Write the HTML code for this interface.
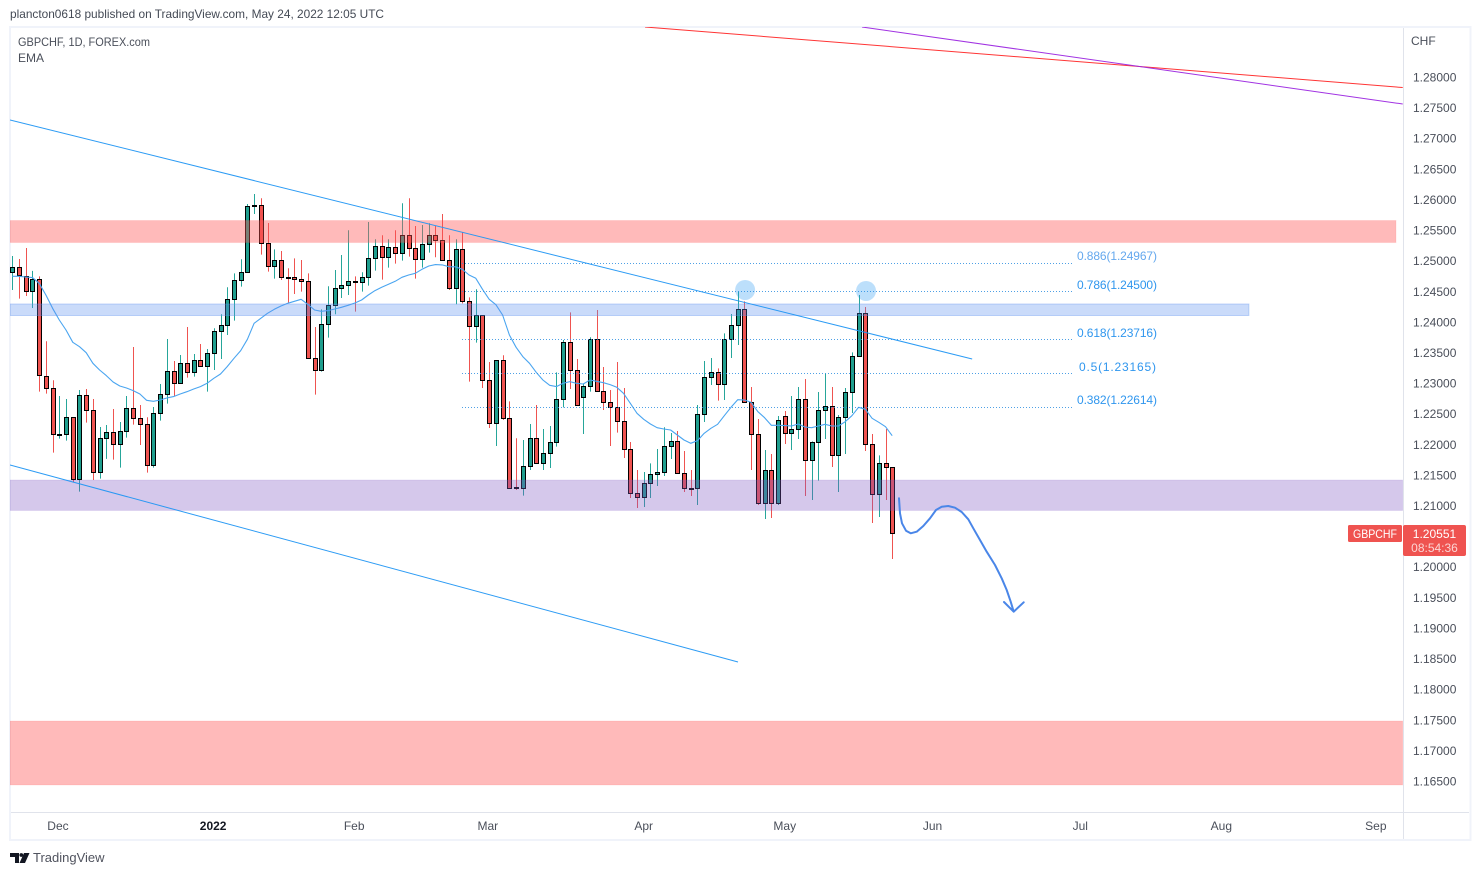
<!DOCTYPE html>
<html lang="en">
<head>
<meta charset="utf-8">
<title>GBPCHF 1D chart</title>
<style>
html,body{margin:0;padding:0;background:#fff;}
body{width:1481px;height:875px;overflow:hidden;font-family:"Liberation Sans",sans-serif;}
svg{display:block;}
text{font-family:"Liberation Sans",sans-serif;}
</style>
</head>
<body>
<svg id="chart" width="1481" height="875" viewBox="0 0 1481 875" xmlns="http://www.w3.org/2000/svg">
  <defs><clipPath id="pane-clip"><rect x="10" y="27" width="1393" height="785"/></clipPath></defs>
  <rect width="1481" height="875" fill="#ffffff"/>
  <text x="10" y="18" font-size="12" fill="#444a55" textLength="374" lengthAdjust="spacingAndGlyphs">plancton0618 published on TradingView.com, May 24, 2022 12:05 UTC</text>
  <rect x="10" y="27" width="1460.5" height="813" fill="none" stroke="#f0f3fa" stroke-width="2"/>
  <line x1="1403.5" y1="28" x2="1403.5" y2="839" stroke="#e0e3eb"/>
  <line x1="11" y1="812.5" x2="1469" y2="812.5" stroke="#e0e3eb"/>
  <g id="candles" clip-path="url(#pane-clip)"></g>
  <g id="ema" clip-path="url(#pane-clip)"></g>
  <g id="drawings" clip-path="url(#pane-clip)"></g>
  <path fill="none" stroke="#4a86e8" stroke-width="2" stroke-linecap="round" stroke-linejoin="round" d="M899 498.3 L900 513.3 L902 523.3 L906 530.7 L910.7 533.3 L916.7 531.7 L923.3 526 L930 518.3 L936 510 L941.7 506.7 L948.3 506 L955 507.7 L961.7 512 L968.3 519.3 L973.3 528.3 L980 540 L986.7 551.7 L995 565 L1001.7 578.3 L1006.7 590 L1010.7 601.7 L1013.7 611.7 M1004 602 L1013.7 611.7 L1023.7 602.3"/>
  <text x="18" y="46" font-size="12" fill="#4a4f5a" textLength="132" lengthAdjust="spacingAndGlyphs">GBPCHF, 1D, FOREX.com</text>
  <text x="18" y="62" font-size="12" fill="#4a4f5a">EMA</text>
  <text x="1411" y="45" font-size="12" fill="#4a4f5a">CHF</text>
  <g id="price-axis"></g>
  <g id="time-axis"></g>
  <rect x="1348" y="525" width="54" height="17" rx="1.5" fill="#ef5350"/>
  <text x="1353" y="538" font-size="12" fill="#ffffff" textLength="44" lengthAdjust="spacingAndGlyphs">GBPCHF</text>
  <rect x="1403" y="525" width="63" height="31" rx="2" fill="#ef5350"/>
  <text x="1434.5" y="538" font-size="12" fill="#ffffff" text-anchor="middle">1.20551</text>
  <text x="1434.5" y="552" font-size="12" fill="#fbd5d4" text-anchor="middle">08:54:36</text>
  <g>
    <path fill="#131722" d="M10 853h9v10h-4v-6h-5z M24 853h5.5l-4.5 10h-5.5z"/>
    <circle cx="21.3" cy="855" r="1.9" fill="#131722"/>
    <text x="33" y="862" font-size="13" fill="#50535e">TradingView</text>
  </g>
</svg>
<script>
const opens=[1.24810,1.24902,1.24755,1.24499,1.24695,1.23122,1.22915,1.22158,1.22163,1.22441,1.21428,1.22801,1.22555,1.21543,1.22098,1.22196,1.22000,1.22212,1.22588,1.22425,1.22327,1.21657,1.22506,1.22817,1.23193,1.22997,1.23323,1.23176,1.23372,1.23274,1.23487,1.23846,1.23944,1.24369,1.24679,1.24810,1.25888,1.25904,1.25283,1.24908,1.25006,1.24728,1.24728,1.24695,1.24663,1.23405,1.23209,1.23960,1.24271,1.24548,1.24597,1.24663,1.24646,1.24728,1.25038,1.25234,1.25055,1.25218,1.25120,1.25414,1.25202,1.25022,1.25267,1.25414,1.25332,1.25006,1.24548,1.25185,1.24336,1.23927,1.24107,1.23045,1.22343,1.23372,1.22435,1.21297,1.21281,1.21640,1.22098,1.21689,1.21853,1.22033,1.22735,1.23666,1.23209,1.22768,1.22947,1.23715,1.22866,1.22686,1.22604,1.22376,1.21918,1.21199,1.21134,1.21363,1.21510,1.21542,1.21967,1.22049,1.21526,1.21281,1.21281,1.22489,1.23094,1.23175,1.22979,1.23714,1.23943,1.24204,1.22685,1.22163,1.21035,1.21575,1.21035,1.22457,1.22179,1.22244,1.22734,1.21738,1.22032,1.22555,1.22620,1.21820,1.22440,1.22849,1.23437,1.24139,1.21999,1.21182,1.21689,1.21624];
const highs=[1.25077,1.25028,1.25207,1.24832,1.24744,1.23683,1.23046,1.22790,1.22741,1.22441,1.22888,1.22904,1.22741,1.22283,1.22316,1.22577,1.22365,1.22790,1.23590,1.22643,1.22441,1.22610,1.22986,1.23721,1.23361,1.23459,1.23917,1.23476,1.23639,1.23557,1.23895,1.24124,1.24565,1.24793,1.25022,1.25926,1.26089,1.26019,1.25616,1.25185,1.25158,1.24875,1.25038,1.25011,1.24793,1.23917,1.24205,1.24581,1.24848,1.25093,1.25496,1.24744,1.24810,1.25632,1.25349,1.25414,1.25349,1.25496,1.25937,1.26019,1.25567,1.25583,1.25610,1.25567,1.25763,1.25414,1.25349,1.25463,1.24401,1.24532,1.24107,1.23345,1.23377,1.23454,1.22702,1.22098,1.22071,1.22332,1.22642,1.22250,1.22299,1.23176,1.23704,1.24156,1.23394,1.22996,1.23748,1.24194,1.23263,1.22887,1.23345,1.22920,1.22038,1.21581,1.21548,1.21689,1.21924,1.22278,1.22185,1.22218,1.21890,1.21580,1.22642,1.23361,1.23410,1.23241,1.23812,1.24128,1.24499,1.24335,1.22936,1.22413,1.21907,1.21841,1.22462,1.22544,1.22789,1.22936,1.23066,1.22048,1.22854,1.23159,1.22936,1.22478,1.22919,1.23502,1.24439,1.24243,1.22168,1.21820,1.22250,1.21624];
const lows=[1.24521,1.24380,1.24423,1.24227,1.22860,1.22828,1.21864,1.22093,1.22060,1.21379,1.21227,1.22354,1.21417,1.21439,1.21761,1.21750,1.21619,1.22109,1.22321,1.21989,1.21537,1.21619,1.22387,1.22664,1.22784,1.22997,1.23089,1.23105,1.23274,1.22860,1.23214,1.23394,1.23786,1.24020,1.24576,1.24810,1.25763,1.25098,1.24821,1.24706,1.24684,1.24303,1.24456,1.24494,1.23405,1.22811,1.23187,1.23742,1.24124,1.24390,1.24439,1.24167,1.24494,1.24592,1.24837,1.24690,1.24886,1.24951,1.25000,1.25066,1.24706,1.24886,1.25131,1.25055,1.25006,1.24521,1.24287,1.24303,1.23024,1.23661,1.22920,1.22267,1.21973,1.22397,1.21281,1.21254,1.21161,1.21581,1.21689,1.21581,1.21613,1.21962,1.22604,1.22904,1.22637,1.22169,1.22860,1.22866,1.22561,1.21973,1.22190,1.21777,1.21123,1.20960,1.20976,1.21123,1.21319,1.21483,1.21760,1.21526,1.21221,1.21155,1.21008,1.22364,1.22968,1.22713,1.22723,1.23410,1.23622,1.22685,1.21580,1.21008,1.20780,1.20796,1.21008,1.22005,1.21907,1.22086,1.21155,1.21090,1.21406,1.22086,1.21629,1.21221,1.21841,1.22511,1.23437,1.21890,1.20714,1.20812,1.21090,1.20126];
const closes=[1.24902,1.24761,1.24499,1.24695,1.23127,1.22915,1.22163,1.22169,1.22441,1.21428,1.22801,1.22555,1.21543,1.22098,1.22196,1.22000,1.22212,1.22588,1.22425,1.22327,1.21657,1.22506,1.22817,1.23193,1.22997,1.23323,1.23176,1.23372,1.23274,1.23487,1.23846,1.23944,1.24369,1.24679,1.24810,1.25888,1.25904,1.25283,1.24908,1.25006,1.24728,1.24723,1.24695,1.24663,1.23405,1.23209,1.23960,1.24271,1.24548,1.24597,1.24663,1.24652,1.24728,1.25038,1.25234,1.25055,1.25218,1.25120,1.25414,1.25202,1.25022,1.25267,1.25414,1.25332,1.25006,1.24548,1.25185,1.24336,1.23927,1.24107,1.23045,1.22343,1.23372,1.22435,1.21281,1.21281,1.21640,1.22098,1.21689,1.21853,1.22033,1.22735,1.23666,1.23209,1.22637,1.22947,1.23715,1.22866,1.22686,1.22604,1.22376,1.21918,1.21199,1.21134,1.21363,1.21510,1.21542,1.21967,1.22049,1.21526,1.21281,1.21275,1.22489,1.23094,1.23175,1.22979,1.23714,1.23943,1.24204,1.22685,1.22163,1.21035,1.21575,1.21035,1.22391,1.22179,1.22244,1.22734,1.21738,1.22032,1.22555,1.22620,1.21820,1.22440,1.22849,1.23437,1.24139,1.21999,1.21182,1.21689,1.21624,1.20551];
const emaValues=[1.24744,1.24744,1.24733,1.24723,1.24630,1.24439,1.24222,1.24031,1.23868,1.23666,1.23595,1.23497,1.23323,1.23214,1.23122,1.23018,1.22953,1.22920,1.22877,1.22822,1.22719,1.22702,1.22724,1.22757,1.22779,1.22822,1.22860,1.22904,1.22942,1.22997,1.23078,1.23149,1.23269,1.23405,1.23530,1.23715,1.23977,1.24058,1.24140,1.24205,1.24260,1.24303,1.24336,1.24369,1.24287,1.24194,1.24173,1.24184,1.24211,1.24238,1.24271,1.24309,1.24358,1.24439,1.24510,1.24565,1.24614,1.24663,1.24728,1.24766,1.24793,1.24859,1.24913,1.24935,1.24930,1.24902,1.24900,1.24858,1.24766,1.24711,1.24532,1.24368,1.24281,1.24113,1.23786,1.23584,1.23432,1.23323,1.23176,1.23051,1.22964,1.22942,1.22996,1.23024,1.22996,1.22985,1.23051,1.23029,1.23007,1.22975,1.22931,1.22833,1.22670,1.22506,1.22408,1.22332,1.22272,1.22250,1.22234,1.22152,1.22071,1.22016,1.22059,1.22179,1.22261,1.22326,1.22468,1.22604,1.22729,1.22723,1.22685,1.22533,1.22435,1.22310,1.22310,1.22305,1.22299,1.22331,1.22282,1.22271,1.22299,1.22326,1.22299,1.22299,1.22370,1.22468,1.22604,1.22571,1.22424,1.22359,1.22288,1.22141];
const priceTicks=["1.28000","1.27500","1.27000","1.26500","1.26000","1.25500","1.25000","1.24500","1.24000","1.23500","1.23000","1.22500","1.22000","1.21500","1.21000","1.20000","1.19500","1.19000","1.18500","1.18000","1.17500","1.17000","1.16500"];
const timeLabels=["Dec","2022","Feb","Mar","Apr","May","Jun","Jul","Aug","Sep"];
const timeBars=[6.8,29.9,50.9,70.8,94,115,137,159,180,203];
const fibLevels=["0.886","0.786","0.618","0.5","0.382"];
const fibPrices=["1.24967","1.24500","1.23716","1.23165","1.22614"];
const zoneTop=[1.25656,1.24292,1.21417,1.17480];
const zoneBottom=[1.25296,1.24104,1.20919,1.16435];
const zoneEndBar=[206,184.1,207,207];
const zoneFill=["#ff5252","#5b90ee","#7e57c2","#ff5252"];
const zoneOpacity=[0.4,0.32,0.33,0.4];
const zoneNames=["resistance-zone-upper","support-zone-blue","support-zone-purple","demand-zone-lower"];
const trendNames=["channel-upper-line","channel-lower-line","long-term-red-line","long-term-purple-line"];
const trendColors=["#2196f3","#2196f3","#ff2a2a","#9c27e0"];
const trendStartBar=[-0.34,-0.34,94.2,126.5];
const trendStartPrice=[1.27298,1.21662,1.28817,1.28817];
const trendEndBar=[142.9,108.04,207,207];
const trendEndPrice=[1.23394,1.18444,1.27828,1.27559];
const markerBars=[109.1,127.1];
const markerPrices=[1.24521,1.24505];

const SVGNS='http://www.w3.org/2000/svg';
const xOf=function(bar){return 12.3+6.717*bar;};
const yOf=function(price){return 77+(1.28-price)*6121.74;};
function mk(parent,tag,attrs){
  const el=document.createElementNS(SVGNS,tag);
  Object.keys(attrs).forEach(function(k){el.setAttribute(k,attrs[k]);});
  parent.appendChild(el);
  return el;
}
const candleLayer=document.getElementById('candles');
opens.forEach(function(o,i){
  const up=closes[i]>=o;
  const color=up?'#1f9e8e':'#ef5350';
  const wickColor=up?'#26a69a':'#ef5350';
  const cx=Math.round(xOf(i));
  const g=mk(candleLayer,'g',{});
  
  
  const wick=mk(g,'line',{x1:cx+0.5,x2:cx+0.5,y1:yOf(highs[i]),y2:yOf(lows[i]),stroke:wickColor,'stroke-width':1});
  
  
  const top=Math.round(yOf(Math.max(o,closes[i])));
  const bot=Math.round(yOf(Math.min(o,closes[i])));
  const body=mk(g,'rect',{x:cx-1.5,y:top+0.5,width:4,height:Math.max(bot-top,0),fill:color,stroke:'#000000','stroke-width':1});
  
  
});
const emaLine=mk(document.getElementById('ema'),'polyline',{fill:'none',stroke:'#4aa5f0','stroke-width':1.1,'stroke-linejoin':'round',
  points:emaValues.map(function(v,i){return xOf(i).toFixed(1)+','+yOf(v).toFixed(1);}).join(' ')});



const draw=document.getElementById('drawings');
zoneNames.forEach(function(name,i){
  const y1=yOf(zoneTop[i]);
  const y2=yOf(zoneBottom[i]);
  const x2=xOf(zoneEndBar[i]);
  const r=mk(draw,'rect',{x:10,y:y1,width:x2-10,height:y2-y1,fill:zoneFill[i],'fill-opacity':zoneOpacity[i],stroke:zoneFill[i],'stroke-opacity':i===1?0.35:0.12,'stroke-width':1});
  
  
});
fibPrices.forEach(function(p,i){
  const y=Math.round(yOf(parseFloat(p)))+0.5;
  const l=mk(draw,'line',{x1:462,x2:1072,y1:y,y2:y,stroke:'#2f8fe0','stroke-width':1,'stroke-dasharray':'1 2','stroke-opacity':0.85});
  
  
});
trendNames.forEach(function(name,i){
  const l=mk(draw,'line',{x1:xOf(trendStartBar[i]),y1:yOf(trendStartPrice[i]),x2:xOf(trendEndBar[i]),y2:yOf(trendEndPrice[i]),stroke:trendColors[i],'stroke-width':1,'stroke-opacity':0.95});
  
  
});
markerBars.forEach(function(b,i){
  const c=mk(draw,'circle',{cx:xOf(b),cy:yOf(markerPrices[i]),r:10,fill:'#2196f3','fill-opacity':0.3});
  
  
});
const svg=document.getElementById('chart');
fibLevels.forEach(function(lv,i){
  const isShort=lv.length<5;
  const t=mk(svg,'text',{x:isShort?1079:1077,y:Math.round(yOf(parseFloat(fibPrices[i])))-((i===0||i===4)?3:2),'font-size':12,fill:i===0?'#64a8ee':'#2f96ee',textLength:isShort?77:80,lengthAdjust:'spacing'});
  t.textContent=lv+'('+fibPrices[i]+')';
  
  
});
const pa=document.getElementById('price-axis');
priceTicks.forEach(function(p){
  const t=mk(pa,'text',{x:1413,y:yOf(parseFloat(p))+4.5,'font-size':12,fill:'#4a4f5a'});
  t.textContent=p;
  
  
});
const ta=document.getElementById('time-axis');
timeLabels.forEach(function(lbl,i){
  const t=mk(ta,'text',{x:xOf(timeBars[i]),y:830,'font-size':12,fill:lbl==='2022'?'#131722':'#4a4f5a','text-anchor':'middle'});
  if(lbl==='2022'){t.setAttribute('font-weight','bold');}
  t.textContent=lbl;
  
  
});
</script>
</body>
</html>
